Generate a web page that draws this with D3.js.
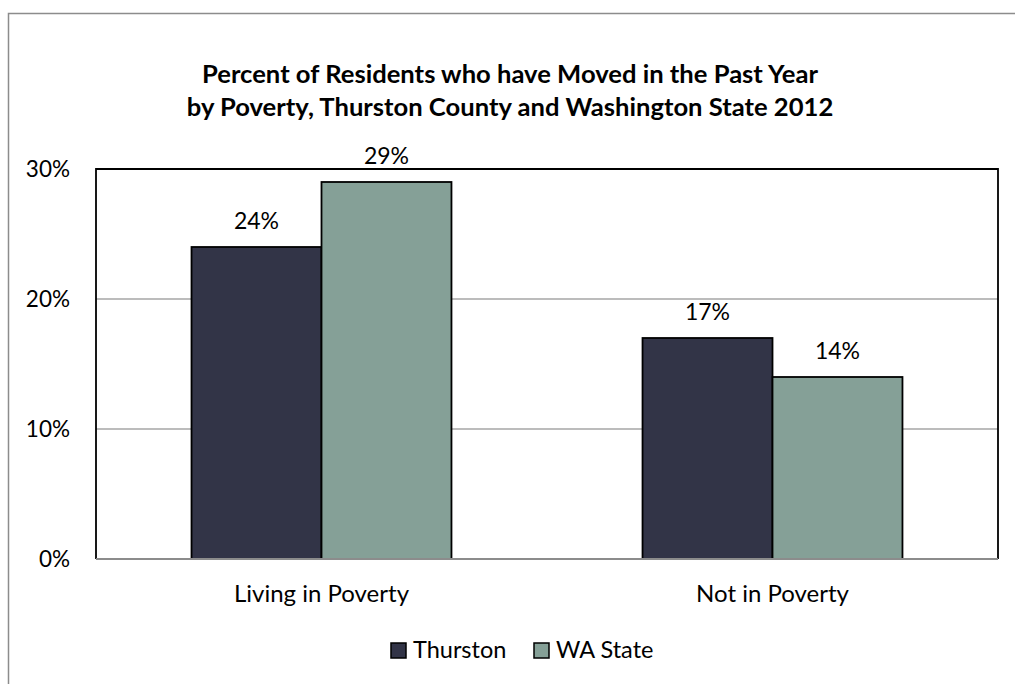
<!DOCTYPE html>
<html><head><meta charset="utf-8">
<script src="https://cdn.jsdelivr.net/npm/d3@7"></script>
<style>body{margin:0;background:#fff}svg{display:block}</style>
</head><body>
<script>
const categories = ["Living in Poverty", "Not in Poverty"];
const seriesNames = ["Thurston", "WA State"];
const thurston = [0.24, 0.17];
const waState = [0.29, 0.14];
const yTicks = [0, 0.1, 0.2, 0.3];
const titleLines = ["Percent of Residents who have Moved in the Past Year",
                    "by Poverty, Thurston County and Washington State 2012"];
const colors = ["#323447", "#85a097"];

const W = 1015, H = 684;
const font = "Lato, 'Open Sans', sans-serif";
const svg = d3.select("body").append("svg").attr("width", W).attr("height", H);
svg.append("rect").attr("width", W).attr("height", H).attr("fill", "#fff");

// outer chart border (top + left visible)
svg.append("path").attr("d", "M8.5,690 L8.5,13.5 L1015,13.5")
  .attr("fill", "none").attr("stroke", "#8c8c8c").attr("stroke-width", 1.5);

const plot = {l: 96, r: 998, t: 169, b: 559};
const y = d3.scaleLinear().domain([0, 0.3]).range([plot.b, plot.t]);
const x0 = d3.scaleBand().domain(categories).range([plot.l, plot.r]).padding(0);
const x1 = d3.scaleBand().domain(seriesNames).range([0, x0.bandwidth()]).paddingInner(0).paddingOuter(0.735);

// gridlines
svg.append("g").selectAll("line").data(yTicks.filter(d => d > 0 && d < 0.3)).join("line")
  .attr("x1", plot.l).attr("x2", plot.r).attr("y1", d => y(d)).attr("y2", d => y(d))
  .attr("stroke", "#a6a6a6").attr("stroke-width", 1.5);

// y tick labels
const yAxis = d3.axisLeft(y).tickValues(yTicks).tickFormat(d3.format(".0%")).tickSize(0).tickPadding(26);
const gy = svg.append("g").attr("transform", `translate(${plot.l},0)`).call(yAxis);
gy.select(".domain").remove();
gy.selectAll("text").attr("font-family", font).attr("font-size", 22.5).attr("fill", "#000");

const data = categories.map((c, i) => ({cat: c, vals: [thurston[i], waState[i]]}));

const groups = svg.append("g").selectAll("g").data(data).join("g")
  .attr("transform", d => `translate(${x0(d.cat)},0)`);
groups.selectAll("rect").data(d => d.vals.map((v, j) => ({s: seriesNames[j], v, j}))).join("rect")
  .attr("x", d => x1(d.s)).attr("width", x1.bandwidth())
  .attr("y", d => y(d.v)).attr("height", d => y(0) - y(d.v))
  .attr("fill", d => colors[d.j]).attr("stroke", "#000").attr("stroke-width", 1.8);
groups.selectAll("text").data(d => d.vals.map((v, j) => ({s: seriesNames[j], v, j}))).join("text")
  .attr("x", d => x1(d.s) + x1.bandwidth() / 2).attr("y", d => y(d.v) - 18)
  .attr("text-anchor", "middle").attr("font-family", font).attr("font-size", 23)
  .text(d => d3.format(".0%")(d.v));

// plot border (black top/left/right)
svg.append("path").attr("d", `M${plot.l},${plot.b} L${plot.l},${plot.t} L${plot.r},${plot.t} L${plot.r},${plot.b}`)
  .attr("fill", "none").attr("stroke", "#000").attr("stroke-width", 1.8);
// bottom axis
svg.append("line").attr("x1", plot.l).attr("x2", plot.r).attr("y1", plot.b).attr("y2", plot.b)
  .attr("stroke", "#8c8c8c").attr("stroke-width", 2);

// x axis labels
const xAxis = d3.axisBottom(x0).tickSize(0).tickPadding(26);
const gx = svg.append("g").attr("transform", `translate(0,${plot.b})`).call(xAxis);
gx.select(".domain").remove();
gx.selectAll("text").attr("font-family", font).attr("font-size", 24).attr("fill", "#000");

// title
svg.append("g").selectAll("text").data(titleLines).join("text")
  .attr("x", 510).attr("y", (d, i) => 83 + i * 33)
  .attr("text-anchor", "middle").attr("font-family", font).attr("font-weight", "bold")
  .attr("font-size", 25.6).text(d => d);

// legend
const legend = svg.append("g");
const lx = [391, 534];
seriesNames.forEach((s, i) => {
  legend.append("rect").attr("x", lx[i]).attr("y", 643).attr("width", 15).attr("height", 15)
    .attr("fill", colors[i]).attr("stroke", "#000").attr("stroke-width", 1.5);
  legend.append("text").attr("x", lx[i] + 22).attr("y", 658)
    .attr("font-family", font).attr("font-size", 23.5).text(s);
});
</script>
</body></html>
